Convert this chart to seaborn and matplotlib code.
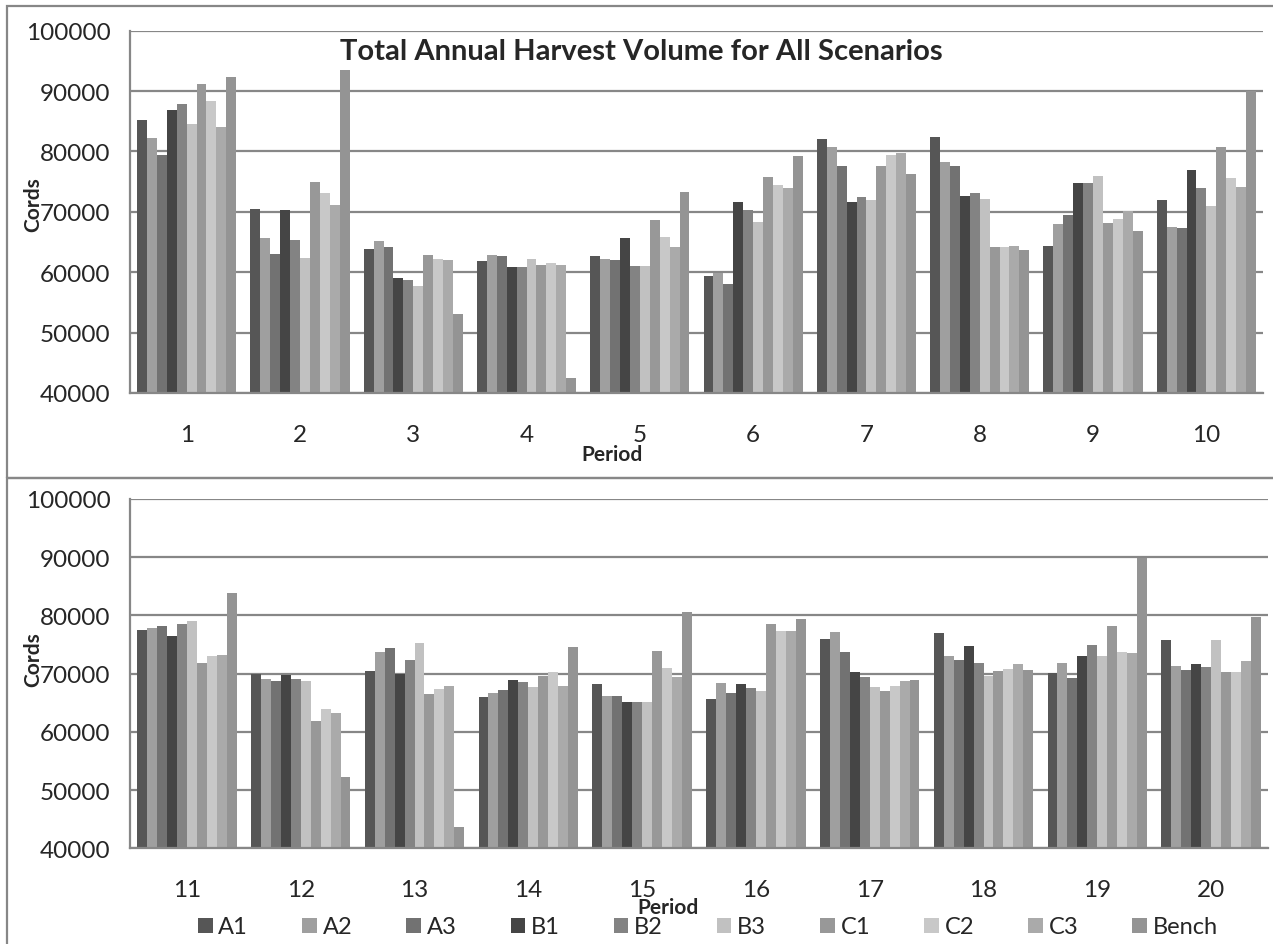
import pandas as pd
import matplotlib.pyplot as plt
import seaborn as sns
import numpy as np
from matplotlib.patches import Rectangle

sns.set_style("white")
plt.rcParams['font.family'] = ['Lato', 'DejaVu Sans']

# scenarios and periods
scenarios = ['A1', 'A2', 'A3', 'B1', 'B2', 'B3', 'C1', 'C2', 'C3', 'Bench']
colors = ['#565656', '#9f9f9f', '#727272', '#454545', '#838383',
          '#c1c1c1', '#989898', '#c8c8c8', '#aaaaaa', '#949494']
periods_top = [str(p) for p in range(1, 11)]
periods_bottom = [str(p) for p in range(11, 21)]

# harvest volume (cords) per scenario, periods 1-20
A1 = [85200, 70500, 63800, 61800, 62700, 59400, 82100, 82400, 64300, 71900,
      77500, 69900, 70500, 66000, 68300, 65600, 76000, 76900, 70100, 75700]
A2 = [82200, 65700, 65200, 62800, 62200, 59900, 80800, 78200, 68000, 67500,
      77900, 69000, 73800, 66600, 66200, 68400, 77100, 73000, 71900, 71300]
A3 = [79400, 63100, 64100, 62700, 62100, 58000, 77600, 77600, 69500, 67300,
      78200, 68800, 74400, 67200, 66200, 66700, 73800, 72300, 69200, 70700]
B1 = [86900, 70300, 59100, 60900, 65700, 71600, 71700, 72700, 74800, 76900,
      76400, 69700, 69900, 68900, 65100, 68200, 70300, 74800, 73100, 71700]
B2 = [87900, 65300, 58700, 60800, 61000, 70300, 72500, 73200, 74800, 74000,
      78600, 69000, 72300, 68500, 65100, 67600, 69500, 71900, 75000, 71200]
B3 = [84500, 62300, 57800, 62200, 61100, 68300, 71900, 72100, 76000, 70900,
      79000, 68700, 75300, 67700, 65100, 67000, 67700, 69600, 73100, 75800]
C1 = [91100, 74900, 62800, 61200, 68600, 75700, 77600, 64100, 68100, 80800,
      71800, 61800, 66500, 69600, 73900, 78600, 67000, 70500, 78200, 70300]
C2 = [88300, 73200, 62200, 61600, 65800, 74500, 79400, 64100, 68800, 75600,
      73000, 63900, 67400, 70200, 70900, 77400, 67800, 70800, 73800, 70300]
C3 = [84000, 71100, 62000, 61200, 64200, 73900, 79800, 64400, 70100, 74100,
      73200, 63300, 67800, 67800, 69400, 77400, 68800, 71700, 73600, 72200]
Bench = [92300, 93500, 53100, 42500, 73300, 79200, 76200, 63700, 66800, 90000,
         83800, 52200, 43700, 74600, 80600, 79400, 68900, 70700, 89800, 79700]

series = [A1, A2, A3, B1, B2, B3, C1, C2, C3, Bench]
periods = periods_top + periods_bottom
df = pd.DataFrame({
    'Period': np.tile(periods, len(scenarios)),
    'Scenario': np.repeat(scenarios, len(periods)),
    'Cords': np.concatenate(series),
})

W, H = 1273, 945
fig = plt.figure(figsize=(W / 100, H / 100), dpi=100)

def px_axes(left, top, right, bottom):
    return fig.add_axes([left / W, 1 - bottom / H, (right - left) / W, (bottom - top) / H])

grid_c = '#878787'

# chart borders (Excel style)
fig.patches.append(Rectangle((7 / W, 1 - 479 / H), 1.2, 472 / H, transform=fig.transFigure,
                             fill=False, edgecolor=grid_c, linewidth=1.6))
fig.patches.append(Rectangle((7 / W, -0.2), 1.2, 1.2 - 479 / H, transform=fig.transFigure,
                             fill=False, edgecolor=grid_c, linewidth=1.6))

ax1 = px_axes(130, 31.7, 1263, 394)
ax2 = px_axes(130, 500, 1268, 849.3)

for ax, per in [(ax1, periods_top), (ax2, periods_bottom)]:
    sub = df[df['Period'].isin(per)]
    sns.barplot(data=sub, x='Period', y='Cords', hue='Scenario', order=per,
                hue_order=scenarios, palette=colors, width=0.875, gap=0,
                linewidth=0, saturation=1, ax=ax, legend=(ax is ax2))
    ax.set_ylim(40000, 100000)
    ax.set_xlim(-0.5, 9.5)
    ax.set_yticks(range(40000, 100001, 10000))
    ax.set_axisbelow(True)
    ax.grid(True, axis='y', color=grid_c, linewidth=1.6)
    ax.set_xticks(np.arange(-0.5, 10, 1), minor=True)
    ax.tick_params(axis='x', which='major', length=0, labelsize=17.5, pad=22)
    ax.tick_params(axis='x', which='minor', length=7, width=1.6, color=grid_c, direction='out')
    ax.tick_params(axis='y', length=8, width=1.6, color=grid_c, direction='out', labelsize=17.5, pad=6)
    ax.set_xlabel('')
    ax.set_ylabel('')
    for s in ['top', 'right']:
        ax.spines[s].set_visible(False)
    for s in ['left', 'bottom']:
        ax.spines[s].set_color(grid_c)
        ax.spines[s].set_linewidth(1.6)

handles, labels = ax2.get_legend_handles_labels()
ax2.get_legend().remove()
fig.legend(handles, labels, ncol=10, loc='center', bbox_to_anchor=(708 / W, 1 - 928 / H),
           frameon=False, fontsize=17, handlelength=0.6, handleheight=0.6,
           handletextpad=0.25, columnspacing=2.3)

fig.text(641 / W, 1 - 52 / H, 'Total Annual Harvest Volume for All Scenarios',
         ha='center', va='center', fontsize=21, fontweight='bold')
fig.text(33 / W, 1 - 205 / H, 'Cords', rotation=90, ha='center', va='center',
         fontsize=15, fontweight='bold')
fig.text(33 / W, 1 - 660 / H, 'Cords', rotation=90, ha='center', va='center',
         fontsize=15, fontweight='bold')
fig.text(612 / W, 1 - 455 / H, 'Period', ha='center', va='center', fontsize=15, fontweight='bold')
fig.text(668 / W, 1 - 908 / H, 'Period', ha='center', va='center', fontsize=15, fontweight='bold')

plt.savefig('out.png', dpi=100)
